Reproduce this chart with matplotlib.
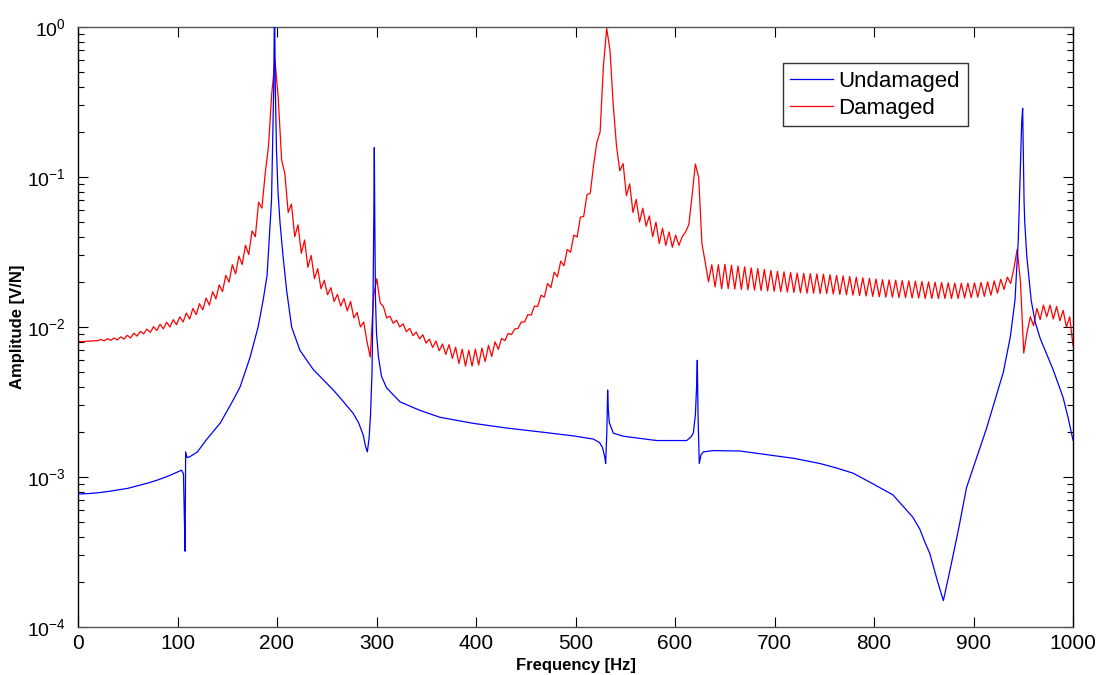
import numpy as np
import matplotlib
matplotlib.use("Agg")
import matplotlib.pyplot as plt
from matplotlib.ticker import LogLocator, NullFormatter

plt.rcParams["font.family"] = ["Liberation Sans", "DejaVu Sans"]
plt.rcParams["mathtext.default"] = "regular"
plt.rcParams["axes.unicode_minus"] = False

# undamaged FRF (Hz, V/N)
undamaged_freq = [0, 10, 20, 30, 40, 50, 60, 70, 80, 90,
                  100, 104, 106, 106.8, 107.6, 108.2, 109.5, 112, 120, 129,
                  143, 156, 163, 173, 181, 186, 190, 194.5, 196.7, 197.5,
                  198.3, 199.5, 201, 203, 206, 209.7, 214.7, 223, 236.5, 256.6,
                  263, 276.7, 282, 286.7, 289, 290.8, 292.5, 294, 295.5, 296.5,
                  297.3, 297.8, 298.3, 299, 300, 302, 305, 310, 323.6, 343.7,
                  363.8, 397, 430.8, 464, 497.8, 517.9, 524, 527, 529.5, 530.3,
                  531.5, 532.3, 533, 534, 538, 548, 581.6, 611.8, 616, 618.4,
                  620.5, 621.7, 622.4, 623.2, 624.4, 626, 628.4, 638.5, 665.3, 698.8,
                  720, 745.7, 762, 779, 799, 819, 839, 846, 851, 856,
                  864, 869.7, 876.4, 885, 893, 913, 930, 937, 941.7, 945,
                  948.4, 949.4, 950.8, 951.5, 953.5, 958, 962, 967, 980, 990,
                  995, 1000]
undamaged_amp = [7.7e-4, 7.75e-4, 7.85e-4, 8.0e-4, 8.2e-4, 8.4e-4, 8.75e-4, 9.1e-4, 9.55e-4, 1.01e-3,
                 1.08e-3, 1.11e-3, 1.05e-3, 5.8e-4, 3.2e-4, 1.47e-3, 1.35e-3, 1.36e-3, 1.47e-3, 1.77e-3,
                 2.29e-3, 3.26e-3, 4.0e-3, 6.3e-3, 1.0e-2, 1.5e-2, 2.2e-2, 7.0e-2, 0.40, 1.5,
                 0.40, 0.15, 0.08, 0.05, 0.03, 0.0175, 1.0e-2, 7.0e-3, 5.2e-3, 3.8e-3,
                 3.4e-3, 2.65e-3, 2.3e-3, 1.9e-3, 1.6e-3, 1.47e-3, 1.8e-3, 2.6e-3, 5.0e-3, 0.015,
                 0.053, 0.157, 0.05, 0.015, 9.1e-3, 6.3e-3, 4.7e-3, 3.94e-3, 3.17e-3, 2.78e-3,
                 2.5e-3, 2.28e-3, 2.12e-3, 2.0e-3, 1.88e-3, 1.79e-3, 1.7e-3, 1.58e-3, 1.35e-3, 1.23e-3,
                 2.0e-3, 3.8e-3, 2.8e-3, 2.3e-3, 1.96e-3, 1.87e-3, 1.75e-3, 1.75e-3, 1.85e-3, 1.96e-3,
                 2.6e-3, 4.0e-3, 6.0e-3, 2.5e-3, 1.23e-3, 1.4e-3, 1.47e-3, 1.5e-3, 1.49e-3, 1.39e-3,
                 1.33e-3, 1.23e-3, 1.15e-3, 1.06e-3, 9.0e-4, 7.6e-4, 5.4e-4, 4.5e-4, 3.7e-4, 3.1e-4,
                 2.0e-4, 1.5e-4, 2.4e-4, 4.5e-4, 8.5e-4, 2.1e-3, 5.0e-3, 8.6e-3, 0.0151, 0.038,
                 0.228, 0.287, 0.07, 0.05, 0.03, 0.015, 0.0108, 8.4e-3, 5.2e-3, 3.4e-3,
                 2.5e-3, 1.76e-3]

# damaged FRF, read every ~3.3 Hz (peaks and troughs of the ripple), 0..1000 Hz
damaged_amp = [
    8.0e-3, 8.0e-3, 8.0e-3, 8.05e-3, 8.05e-3, 8.1e-3, 8.1e-3, 8.25e-3, 8.1e-3, 8.35e-3,
    8.15e-3, 8.45e-3, 8.2e-3, 8.6e-3, 8.3e-3, 8.8e-3, 8.45e-3, 9.1e-3, 8.7e-3, 9.35e-3,
    9.0e-3, 9.7e-3, 9.2e-3, 1.005e-2, 9.47e-3, 1.042e-2, 9.72e-3, 1.077e-2, 1.0e-2, 1.12e-2,
    1.036e-2, 1.17e-2, 1.08e-2, 1.24e-2, 1.13e-2, 1.33e-2, 1.21e-2, 1.43e-2, 1.30e-2, 1.56e-2,
    1.40e-2, 1.72e-2, 1.54e-2, 1.91e-2, 1.72e-2, 2.21e-2, 1.99e-2, 2.6e-2, 2.26e-2, 2.97e-2,
    2.61e-2, 3.51e-2, 3.04e-2, 4.37e-2, 4.0e-2, 6.8e-2, 6.2e-2, 0.105, 0.16, 0.36,
    0.60, 0.33, 0.13, 0.105, 0.058, 0.066, 0.040, 0.048, 0.031, 0.038,
    0.025, 0.030, 0.021, 0.0245, 0.018, 0.0205, 0.0164, 0.0183, 0.0148, 0.0165,
    0.0138, 0.0155, 0.0128, 0.0148, 0.0115, 0.0125, 0.0100, 0.0108, 0.0080, 0.0063,
    0.0160, 0.0210, 0.0145, 0.0137, 0.0115, 0.0118, 0.0106, 0.0111, 0.0100, 0.0105,
    0.0093, 0.0098, 0.00875, 0.00926, 0.00833, 0.00888, 0.00781, 0.0083, 0.0073, 0.00806,
    0.00695, 0.0077, 0.00657, 0.00763, 0.00618, 0.00733, 0.00571, 0.00712, 0.00549, 0.0070,
    0.00549, 0.00712, 0.00558, 0.00723, 0.00589, 0.00755, 0.00636, 0.00796, 0.0071, 0.0084,
    0.0081, 0.00906, 0.0089, 0.0097, 0.0098, 0.0108, 0.0108, 0.0121, 0.0120, 0.0138,
    0.0137, 0.0163, 0.0158, 0.0195, 0.0183, 0.0232, 0.0216, 0.0275, 0.0256, 0.0329,
    0.0315, 0.0410, 0.0398, 0.0540, 0.0546, 0.0763, 0.078, 0.12, 0.17, 0.20,
    0.55, 0.98, 0.70, 0.30, 0.16, 0.11, 0.123, 0.075, 0.090, 0.058,
    0.071, 0.050, 0.062, 0.047, 0.055, 0.040, 0.050, 0.036, 0.0455, 0.035,
    0.043, 0.034, 0.041, 0.035, 0.040, 0.043, 0.048, 0.075, 0.122, 0.100,
    0.036, 0.027, 0.020, 0.026, 0.0185, 0.026, 0.0180, 0.0262, 0.0180, 0.0258,
    0.0179, 0.0255, 0.0178, 0.0252, 0.0177, 0.0248, 0.0176, 0.0245, 0.0175, 0.0242,
    0.0174, 0.0238, 0.0173, 0.0235, 0.0172, 0.0233, 0.0171, 0.0231, 0.0170, 0.0229,
    0.0169, 0.0228, 0.0168, 0.0227, 0.0168, 0.0226, 0.0167, 0.0225, 0.0167, 0.0223,
    0.0166, 0.0221, 0.0165, 0.0219, 0.0164, 0.0217, 0.0163, 0.0215, 0.0162, 0.0213,
    0.0161, 0.0211, 0.0160, 0.0209, 0.0159, 0.0207, 0.0158, 0.0206, 0.0158, 0.0205,
    0.0157, 0.0204, 0.0157, 0.0203, 0.0156, 0.0202, 0.0156, 0.0201, 0.0155, 0.0200,
    0.0155, 0.0199, 0.0155, 0.0198, 0.0155, 0.0197, 0.0155, 0.0196, 0.0155, 0.0196,
    0.0156, 0.0196, 0.0157, 0.0197, 0.0158, 0.0198, 0.0160, 0.0200, 0.0163, 0.0203,
    0.0168, 0.0208, 0.0178, 0.0215, 0.0195, 0.0245, 0.0330, 0.0200, 0.0067, 0.0092,
    0.0117, 0.0102, 0.0133, 0.0112, 0.0140, 0.0117, 0.0140, 0.0113, 0.0137, 0.0110,
    0.0129, 0.0100, 0.0117, 0.0075,
]
damaged_freq = np.linspace(0, 1000, len(damaged_amp))

W, H = 1101, 675
fig = plt.figure(figsize=(W / 100, H / 100), dpi=100)
ax = fig.add_axes([78 / W, 48 / H, 995 / W, 600 / H])

l1, = ax.plot(undamaged_freq, undamaged_amp, color="#0000ff", lw=0.9, zorder=3)
l2, = ax.plot(damaged_freq, damaged_amp, color="#ff0000", lw=0.9, zorder=2)

ax.set_yscale("log")
ax.set_xlim(0, 1000)
ax.set_ylim(1e-4, 1)
ax.set_xticks(range(0, 1001, 100))
ax.yaxis.set_major_locator(LogLocator(base=10, numticks=10))
ax.yaxis.set_minor_locator(LogLocator(base=10, subs=np.arange(2, 10), numticks=10))
ax.yaxis.set_minor_formatter(NullFormatter())

ax.tick_params(which="both", direction="in", top=True, right=True, width=0.8)
ax.tick_params(which="major", length=7.2)
ax.tick_params(which="minor", length=4.3)
ax.tick_params(axis="y", pad=9, labelsize=14)
ax.tick_params(axis="x", pad=5, labelsize=15)

for side in ["left", "right"]:
    ax.spines[side].set_color("black")
for side in ["top", "bottom"]:
    ax.spines[side].set_color("#555555")
for s in ax.spines.values():
    s.set_linewidth(1.0)

ax.set_xlabel("Frequency [Hz]", fontsize=12, fontweight="bold")
ax.xaxis.set_label_coords(0.5, -0.052)
ax.set_ylabel("Amplitude [V/N]", fontsize=12, fontweight="bold")
ax.yaxis.set_label_coords(-0.053, 0.5)

leg = ax.legend([l1, l2], ["Undamaged", "Damaged"],
                loc="upper left", bbox_to_anchor=(782.7 / W, 1 - 63.3 / H),
                bbox_transform=fig.transFigure, fontsize=16, frameon=True,
                fancybox=False, edgecolor="#333333", framealpha=1,
                borderaxespad=0, handlelength=1.9, handletextpad=0.25,
                labelspacing=0.25, borderpad=0.35)
leg.get_frame().set_linewidth(1.0)

fig.savefig("out.png", dpi=100)
plt.close(fig)
